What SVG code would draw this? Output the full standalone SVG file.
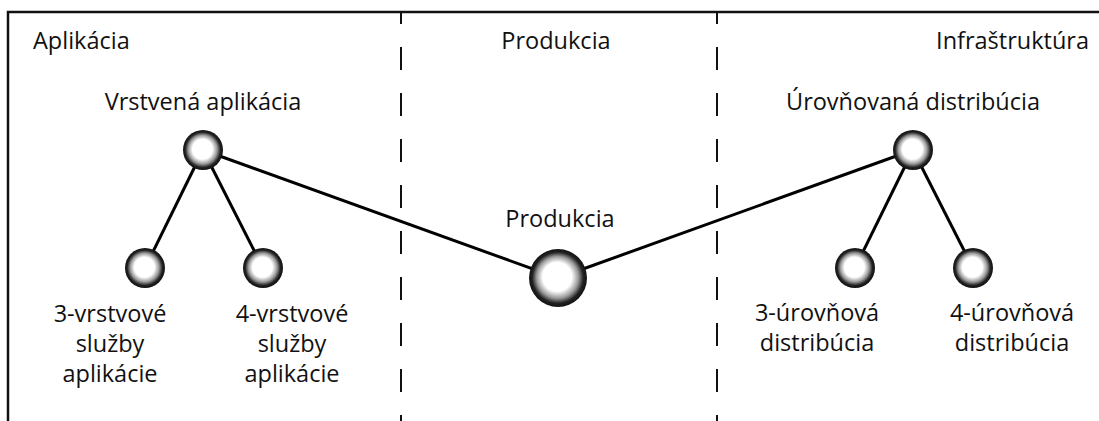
<svg xmlns="http://www.w3.org/2000/svg" width="1099" height="421" viewBox="0 0 1099 421">
<style>
.t{font-family:"Open Sans","Noto Sans",sans-serif;font-size:23.5px;fill:#111}
.m{text-anchor:middle}
.frame{fill:none;stroke:#111;stroke-width:2.5}
.dash{stroke:#111;stroke-width:2;stroke-dasharray:23 23;stroke-dashoffset:11}
.edge{stroke:#000;stroke-width:3;fill:none}
.node{fill:url(#ball)}
</style>
<defs>
<radialGradient id="ball" cx="50%" cy="50%" r="50%" fx="47%" fy="46%">
<stop offset="0" stop-color="#fff"/>
<stop offset="0.5" stop-color="#fff"/>
<stop offset="0.72" stop-color="#999"/>
<stop offset="0.88" stop-color="#222"/>
<stop offset="1" stop-color="#111"/>
</radialGradient>
</defs>
<g id="frame">
<path class="frame" d="M8 421 V12 H1099"/>
<line class="dash" x1="401" y1="12" x2="401" y2="421"/>
<line class="dash" x1="717" y1="12" x2="717" y2="421"/>
<text class="t" x="33" y="49">Aplikácia</text>
<text class="t m" x="556" y="49">Produkcia</text>
<text class="t" x="1089" y="49" text-anchor="end">Infraštruktúra</text>
</g>
<g id="connectors">
<line class="edge" x1="203" y1="150" x2="145" y2="268"/>
<line class="edge" x1="203" y1="150" x2="263" y2="268"/>
<line class="edge" x1="203" y1="150" x2="558" y2="278"/>
<line class="edge" x1="558" y1="278" x2="913" y2="150"/>
<line class="edge" x1="913" y1="150" x2="855" y2="268"/>
<line class="edge" x1="913" y1="150" x2="973" y2="268"/>
</g>
<g id="n-vrstvena">
<circle class="node" cx="203" cy="150" r="20"/>
<text class="t m" x="203" y="110">Vrstvená aplikácia</text>
</g>
<g id="n-3vrstvove">
<circle class="node" cx="145" cy="268" r="20"/>
<text class="t m" x="110" y="322">3-vrstvové</text>
<text class="t m" x="110" y="352">služby</text>
<text class="t m" x="110" y="382">aplikácie</text>
</g>
<g id="n-4vrstvove">
<circle class="node" cx="263" cy="268" r="20"/>
<text class="t m" x="292" y="322">4-vrstvové</text>
<text class="t m" x="292" y="352">služby</text>
<text class="t m" x="292" y="382">aplikácie</text>
</g>
<g id="n-produkcia">
<circle class="node" cx="558" cy="278" r="29"/>
<text class="t m" x="560" y="227">Produkcia</text>
</g>
<g id="n-urovnovana">
<circle class="node" cx="913" cy="150" r="20"/>
<text class="t m" x="913" y="110">Úrovňovaná distribúcia</text>
</g>
<g id="n-3urovnova">
<circle class="node" cx="855" cy="268" r="20"/>
<text class="t m" x="817" y="321">3-úrovňová</text>
<text class="t m" x="817" y="351">distribúcia</text>
</g>
<g id="n-4urovnova">
<circle class="node" cx="973" cy="268" r="20"/>
<text class="t m" x="1012" y="321">4-úrovňová</text>
<text class="t m" x="1012" y="351">distribúcia</text>
</g>
</svg>
